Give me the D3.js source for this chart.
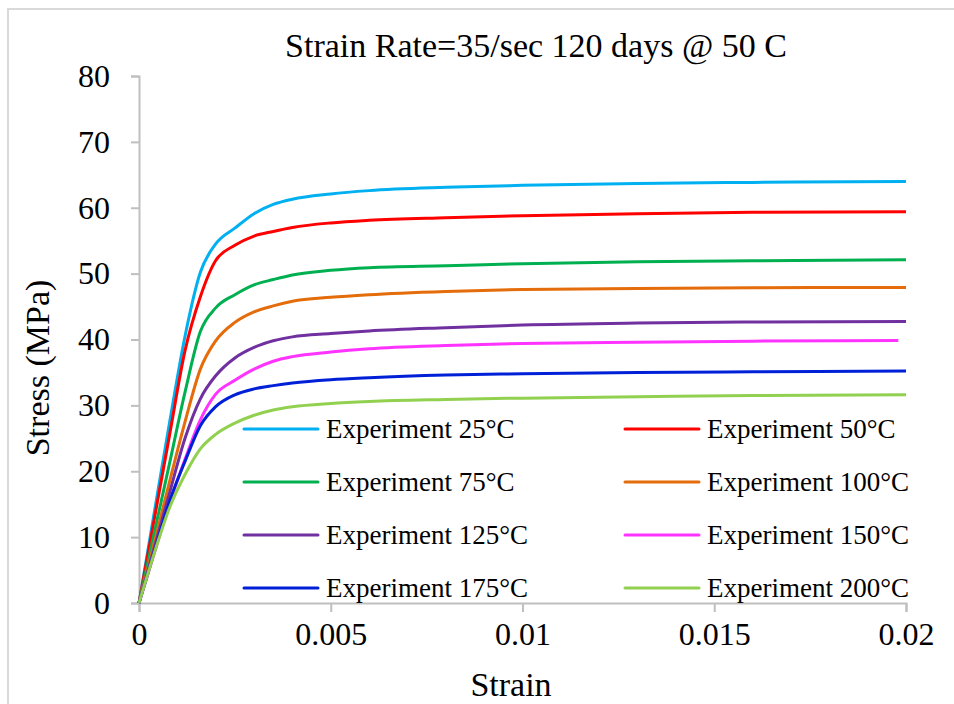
<!DOCTYPE html>
<html>
<head>
<meta charset="utf-8">
<script src="https://cdn.jsdelivr.net/npm/d3@7"></script>
</head>
<body style="margin:0">
<script>
// strain grid shared by all curves
var strain = [0, 0.0004, 0.0008, 0.0012, 0.0016, 0.002, 0.0025, 0.003, 0.0035, 0.004, 0.005, 0.006, 0.008, 0.01, 0.013, 0.016, 0.02];

var exp25  = [0, 13.8, 27.5, 40.5, 50.2, 54.5, 56.9, 59.1, 60.5, 61.3, 62.1, 62.6, 63.1, 63.4, 63.7, 63.85, 64.0];
var exp50  = [0, 12.8, 25.6, 38.3, 46.5, 52.0, 54.3, 55.7, 56.4, 57.0, 57.7, 58.1, 58.5, 58.8, 59.1, 59.3, 59.4];
var exp75  = [0, 10.7, 21.3, 32.0, 41.2, 44.8, 46.8, 48.3, 49.1, 49.8, 50.5, 50.9, 51.2, 51.5, 51.8, 51.95, 52.1];
var exp100 = [0, 9.2, 18.5, 27.5, 35.5, 39.8, 42.6, 44.2, 45.1, 45.8, 46.4, 46.8, 47.3, 47.6, 47.75, 47.85, 47.9];
var exp125 = [0, 8.4, 16.8, 25.0, 31.0, 34.5, 37.2, 38.8, 39.8, 40.4, 40.9, 41.3, 41.8, 42.2, 42.5, 42.65, 42.75];
var exp150 = [0, 7.6, 15.2, 21.8, 27.8, 31.7, 33.8, 35.5, 36.7, 37.4, 38.1, 38.6, 39.1, 39.4, 39.6, 39.75, 39.85];
var exp175 = [0, 7.8, 15.5, 21.5, 26.9, 29.8, 31.6, 32.5, 33.0, 33.4, 33.9, 34.2, 34.6, 34.8, 35.0, 35.1, 35.2];
var exp200 = [0, 7.6, 14.5, 19.5, 23.4, 25.6, 27.3, 28.5, 29.3, 29.8, 30.3, 30.6, 30.9, 31.1, 31.3, 31.5, 31.6];

var labels = ["Experiment 25°C", "Experiment 50°C", "Experiment 75°C", "Experiment 100°C",
              "Experiment 125°C", "Experiment 150°C", "Experiment 175°C", "Experiment 200°C"];
var colors = ["#00b0f0", "#ff0000", "#00b050", "#e46c0a", "#7030a0", "#ff33ff", "#0020d8", "#92d050"];
var series = [exp25, exp50, exp75, exp100, exp125, exp150, exp175, exp200];

var xTicks = [0, 0.005, 0.01, 0.015, 0.02];
var xTickLabels = ["0", "0.005", "0.01", "0.015", "0.02"];
var yTicks = [0, 10, 20, 30, 40, 50, 60, 70, 80];

var FONT = "'Liberation Serif'";

var margin = {top: 76, right: 48, bottom: 101, left: 139};
var width = 954 - margin.left - margin.right;
var height = 704 - margin.top - margin.bottom;

var svg = d3.select("body").append("svg")
            .attr("width", 954)
            .attr("height", 704);

// outer chart border
svg.append("rect")
   .attr("x", 8).attr("y", 9)
   .attr("width", 1000).attr("height", 800)
   .attr("fill", "none")
   .attr("stroke", "#d9d9d9")
   .attr("stroke-width", 2);

var g = svg.append("g")
           .attr("transform", "translate(" + margin.left + "," + margin.top + ")");

var xscale = d3.scaleLinear().domain([0, 0.02]).range([0, width]);
var yscale = d3.scaleLinear().domain([0, 80]).range([height, 0]);

var leftaxis = d3.axisLeft(yscale).tickValues(yTicks).tickSize(8).tickPadding(21);
var bottomaxis = d3.axisBottom(xscale).tickValues(xTicks).tickSize(9).tickPadding(10)
                   .tickFormat(function(d, i){ return xTickLabels[i]; });

var ya = g.append("g").call(leftaxis);
var xa = g.append("g").attr("transform", "translate(0," + height + ")").call(bottomaxis);

[ya, xa].forEach(function(a){
  a.attr("font-family", null).attr("font-size", null);
  a.select(".domain").attr("stroke", "#bfbfbf").attr("stroke-width", 2);
  a.selectAll(".tick line").attr("stroke", "#bfbfbf").attr("stroke-width", 2);
  a.selectAll(".tick text")
   .style("font-family", FONT)
   .attr("font-size", 32)
   .attr("fill", "#000");
});

// curves
var line = d3.line()
             .x(function(d){ return xscale(d[0]); })
             .y(function(d){ return yscale(d[1]); })
             .curve(d3.curveMonotoneX);

series.forEach(function(vals, i){
  var pts = strain.map(function(s, j){ return [s, vals[j]]; });
  if (i == 5) { pts[pts.length - 1][0] = 0.0198; } // 150C curve stops a bit short
  g.append("path")
   .attr("d", line(pts))
   .attr("fill", "none")
   .attr("stroke", colors[i])
   .attr("stroke-width", 3)
   .attr("stroke-linejoin", "round");
});

// legend
labels.forEach(function(lab, i){
  var col = i % 2, row = Math.floor(i / 2);
  var lx = col == 0 ? 244 : 625;
  var ly = 429 + row * 53;
  svg.append("line")
     .attr("x1", lx).attr("x2", lx + 74)
     .attr("y1", ly).attr("y2", ly)
     .attr("stroke", colors[i])
     .attr("stroke-width", 3)
     .attr("stroke-linecap", "round");
  svg.append("text")
     .attr("x", lx + 82).attr("y", ly + 9)
     .attr("font-size", 27)
     .style("font-family", FONT)
     .text(lab);
});

// titles
svg.append("text")
   .attr("x", 536).attr("y", 57)
   .attr("text-anchor", "middle")
   .attr("font-size", 34)
   .style("font-family", FONT)
   .text("Strain Rate=35/sec 120 days @ 50 C");

svg.append("text")
   .attr("x", 511).attr("y", 696)
   .attr("text-anchor", "middle")
   .attr("font-size", 34)
   .style("font-family", FONT)
   .text("Strain");

svg.append("text")
   .attr("transform", "translate(49,368) rotate(-90)")
   .attr("text-anchor", "middle")
   .attr("font-size", 34)
   .style("font-family", FONT)
   .text("Stress (MPa)");
</script>
</body>
</html>
